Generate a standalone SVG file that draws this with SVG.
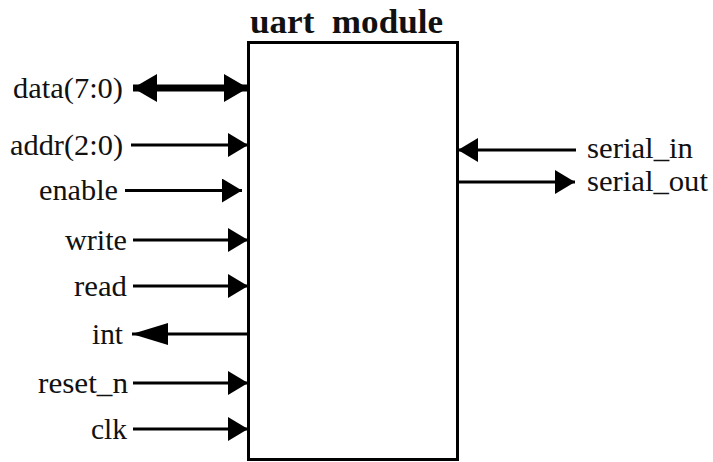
<svg xmlns="http://www.w3.org/2000/svg" width="713" height="462" viewBox="0 0 713 462">
  <style>
    .lbl { font-family: "Liberation Serif", "Times New Roman", serif; font-size: 30px; fill: #111; }
    .title { font-family: "Liberation Serif", "Times New Roman", serif; font-size: 34px; font-weight: bold; fill: #111; }
    .wire { stroke: #000; stroke-width: 3; fill: none; }
    .bus { stroke: #000; stroke-width: 7; fill: none; }
    .box { stroke: #000; stroke-width: 3; fill: #fff; }
  </style>
  <defs>
    <marker id="head" markerUnits="userSpaceOnUse" markerWidth="22" markerHeight="26" refX="20" refY="12" orient="auto" viewBox="0 0 22 26">
      <path d="M0,0 L20,12 L0,24 z" fill="#000"/>
    </marker>
    <marker id="headLong" markerUnits="userSpaceOnUse" markerWidth="38" markerHeight="24" refX="36" refY="11" orient="auto" viewBox="0 0 38 24">
      <path d="M0,0 L36,11 L0,22 z" fill="#000"/>
    </marker>
    <marker id="busHead" markerUnits="userSpaceOnUse" markerWidth="26" markerHeight="30" refX="24" refY="14" orient="auto-start-reverse" viewBox="0 0 26 30">
      <path d="M0,0 L24,14 L0,28 z" fill="#000"/>
    </marker>
  </defs>

  <g id="uart_module">
    <rect class="box" x="248.5" y="42.5" width="209" height="417"/>
    <text class="title" x="250" y="33" xml:space="preserve" textLength="193" lengthAdjust="spacingAndGlyphs">uart  module</text>
  </g>

  <g id="connectors">
    <path class="bus" d="M133,88 L248,88" marker-start="url(#busHead)" marker-end="url(#busHead)"/>
    <path class="wire" d="M131,145 L248,145" marker-end="url(#head)"/>
    <path class="wire" d="M125,190.5 L242,190.5" marker-end="url(#head)"/>
    <path class="wire" d="M133,240 L248,240" marker-end="url(#head)"/>
    <path class="wire" d="M133,286 L248,286" marker-end="url(#head)"/>
    <path class="wire" d="M248,334 L132,334" marker-end="url(#headLong)"/>
    <path class="wire" d="M133,383 L248,383" marker-end="url(#head)"/>
    <path class="wire" d="M133,429 L248,429" marker-end="url(#head)"/>
    <path class="wire" d="M576,150 L458,150" marker-end="url(#head)"/>
    <path class="wire" d="M458,182 L575,182" marker-end="url(#head)"/>
  </g>

  <g id="port_data"><text class="lbl" x="13" y="98" textLength="110" lengthAdjust="spacingAndGlyphs">data(7:0)</text></g>
  <g id="port_addr"><text class="lbl" x="10" y="155" textLength="113" lengthAdjust="spacingAndGlyphs">addr(2:0)</text></g>
  <g id="port_enable"><text class="lbl" x="39" y="200" textLength="79" lengthAdjust="spacingAndGlyphs">enable</text></g>
  <g id="port_write"><text class="lbl" x="65" y="250" textLength="62" lengthAdjust="spacingAndGlyphs">write</text></g>
  <g id="port_read"><text class="lbl" x="74" y="296" textLength="53" lengthAdjust="spacingAndGlyphs">read</text></g>
  <g id="port_int"><text class="lbl" x="92" y="344" textLength="31" lengthAdjust="spacingAndGlyphs">int</text></g>
  <g id="port_reset_n"><text class="lbl" x="38" y="393" textLength="90" lengthAdjust="spacingAndGlyphs">reset_n</text></g>
  <g id="port_clk"><text class="lbl" x="91" y="439" textLength="36" lengthAdjust="spacingAndGlyphs">clk</text></g>
  <g id="port_serial_in"><text class="lbl" x="587" y="158" textLength="106" lengthAdjust="spacingAndGlyphs">serial_in</text></g>
  <g id="port_serial_out"><text class="lbl" x="587" y="191" textLength="121" lengthAdjust="spacingAndGlyphs">serial_out</text></g>
</svg>
